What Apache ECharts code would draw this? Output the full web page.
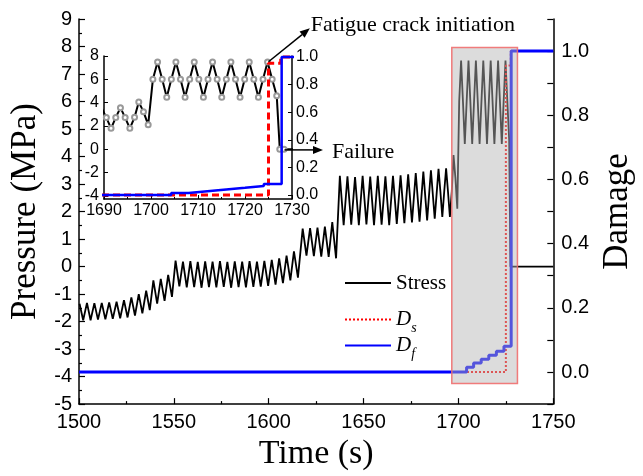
<!DOCTYPE html>
<html>
<head>
<meta charset="utf-8">
<script src="https://cdn.jsdelivr.net/npm/echarts@6/dist/echarts.min.js"></script>
<style>
  html, body { margin: 0; padding: 0; background: #fff; }
  #chart { width: 643px; height: 476px; }
</style>
</head>
<body>
<div id="chart"></div>
<script>
// stress history, [time s, pressure MPa]
const stressA = [
  [1500.3, -1.35], [1502.2, -1.95], [1504.2, -1.32], [1506.1, -1.95], [1508.1, -1.33], [1510.0, -1.93],
  [1512.0, -1.32], [1513.9, -1.92], [1515.9, -1.30], [1517.8, -1.90], [1519.8, -1.28], [1521.7, -1.88],
  [1523.7, -1.22], [1525.6, -1.85], [1527.6, -1.12], [1529.5, -1.78], [1531.5, -1.00], [1533.4, -1.70],
  [1535.4, -0.88], [1537.3, -1.58],
];
const stressB = [
  [1539.2, -0.50], [1541.2, -1.35], [1543.1, -0.45], [1545.1, -1.25], [1547.0, -0.30], [1549.0, -1.10],
];
const stressC = [
  [1550.9, 0.22], [1552.9, -0.72], [1554.8, 0.18], [1556.8, -0.76], [1558.7, 0.20], [1560.7, -0.75],
  [1562.6, 0.17], [1564.6, -0.77], [1566.5, 0.19], [1568.5, -0.75], [1570.4, 0.18], [1572.4, -0.76],
  [1574.3, 0.20], [1576.3, -0.74], [1578.2, 0.17], [1580.2, -0.77], [1582.1, 0.19], [1584.1, -0.75],
  [1586.0, 0.18], [1588.0, -0.76], [1589.9, 0.20], [1591.9, -0.74], [1593.8, 0.18], [1595.8, -0.73],
  [1597.7, 0.21], [1599.7, -0.70], [1601.6, 0.24], [1603.6, -0.66], [1605.5, 0.30], [1607.5, -0.60],
  [1609.4, 0.40], [1611.4, -0.50], [1613.3, 0.55], [1615.4, -0.40],
];
const stressD = [
  [1617.9, 1.38], [1619.9, 0.40], [1621.8, 1.40], [1623.8, 0.38], [1625.7, 1.42], [1627.7, 0.36],
  [1629.6, 1.45], [1631.6, 0.35], [1633.5, 1.62], [1635.5, 0.30],
];
const stressE = [
  [1637.5, 3.30], [1639.5, 1.50], [1641.5, 3.28], [1643.5, 1.52], [1645.5, 3.25], [1647.5, 1.50],
  [1649.5, 3.30], [1651.5, 1.53], [1653.5, 3.27], [1655.5, 1.50], [1657.5, 3.30], [1659.5, 1.52],
  [1661.5, 3.28], [1663.5, 1.50], [1665.5, 3.30], [1667.5, 1.55], [1669.5, 3.32], [1671.5, 1.58],
  [1673.5, 3.35], [1675.5, 1.60], [1677.5, 3.40], [1679.5, 1.63], [1681.5, 3.45], [1683.5, 1.68],
  [1685.5, 3.50], [1687.5, 1.74],
  [1689.5, 3.55], [1690.5, 2.72], [1691.5, 1.80], [1692.5, 2.72], [1693.5, 3.57], [1694.5, 2.72],
  [1695.5, 1.80], [1696.5, 2.74], [1697.4, 4.05], [1698.4, 3.23], [1699.4, 2.10],
];
const stressG = [
  [1700.4, 6.00], [1701.4, 7.49], [1702.38, 6.00], [1703.35, 4.46], [1704.33, 6.00],
  [1705.3, 7.49], [1706.28, 6.00], [1707.25, 4.46], [1708.23, 6.00],
  [1709.2, 7.49], [1710.18, 6.00], [1711.15, 4.46], [1712.13, 6.00],
  [1713.1, 7.49], [1714.08, 6.00], [1715.05, 4.46], [1716.03, 6.00],
  [1717.0, 7.49], [1717.98, 6.00], [1718.95, 4.46], [1719.93, 6.00],
  [1720.9, 7.49], [1721.88, 6.00], [1722.85, 4.46], [1723.83, 6.00],
  [1724.8, 7.49], [1725.78, 6.00], [1726.75, 4.60],
];
const stressFailed = [[1727.4, 0.0], [1728.3, 0.0], [1750, 0.0]];

// damage, [time s, damage], step lines
const damageS = [[1500, 0], [1725.0, 0.955], [1727.6, 1.0], [1750, 1.0]];
const damageF = [
  [1500, 0], [1704.3, 0.015], [1708.0, 0.028], [1712.0, 0.04], [1716.0, 0.052],
  [1720.0, 0.065], [1724.0, 0.08], [1727.8, 1.0], [1750, 1.0],
];

// shaded zoom window on the main plot
const boxTime = [1696.5, 1731.1];
const boxPressure = [-4.25, 7.96];

// annotation arrows, in inset coordinates [time, pressure]
const crackArrow = [[1725.0, 7.51], [1733.8, 10.37]];
const failureArrow = [[1728.4, -0.05], [1736.6, -0.05]];

// tick labels
const insetPressureTicks = [-4, -2, 0, 2, 4, 6, 8];
const insetDamageTicks = [0, 0.2, 0.4, 0.6, 0.8, 1.0];

const stress = [...stressA, ...stressB, ...stressC, ...stressD, ...stressE, ...stressG, ...stressFailed];

const sans = '"Liberation Sans", Arial, sans-serif';
const serif = '"Liberation Serif", "Times New Roman", serif';
const plain = (v) => String(v);

const axisCommon = {
  axisLine: { onZero: false, lineStyle: { color: '#000', width: 1.5 } },
  axisTick: { inside: true, length: 6, lineStyle: { color: '#000', width: 1.2 } },
  splitLine: { show: false },
};

const legendText = {
  fontFamily: serif,
  fontSize: 21,
  color: '#000',
  rich: {
    d: { fontFamily: serif, fontSize: 21, fontStyle: 'italic', color: '#000', lineHeight: 32 },
    sub: { fontFamily: serif, fontSize: 14, fontStyle: 'italic', color: '#000', lineHeight: 32, verticalAlign: 'bottom' },
  },
};
const legendName = (name) => {
  if (name === 'Ds') return '{d|D}{sub|s}';
  if (name === 'Df') return '{d|D}{sub|f}';
  return name;
};
const legendBase = {
  left: 344, orient: 'vertical', itemWidth: 46, itemHeight: 14, padding: 0,
  formatter: legendName, textStyle: legendText, selectedMode: false,
  itemStyle: { opacity: 0 },
};

const chart = echarts.init(document.getElementById('chart'));
chart.setOption({
  animation: false,
  backgroundColor: '#fff',
  grid: [
    { left: 77, right: 85, top: 19, bottom: 67 },
    { left: 104, width: 188, top: 56, height: 143 },
  ],
  legend: [
    { ...legendBase, top: 271, data: ['Stress'], textStyle: { ...legendText, lineHeight: 24 } },
    { ...legendBase, top: 309, data: ['Ds'] },
    { ...legendBase, top: 335, data: ['Df'] },
  ],
  xAxis: [
    {
      ...axisCommon,
      type: 'value', gridIndex: 0, min: 1500, max: 1750, interval: 50,
      minorTick: { show: true, splitNumber: 2, length: 3, lineStyle: { color: '#000', width: 1.2 } },
      axisLabel: { fontFamily: sans, fontSize: 20, color: '#000', margin: 8, formatter: plain },
      name: 'Time (s)', nameLocation: 'middle', nameGap: 28,
      nameTextStyle: { fontFamily: serif, fontSize: 34, color: '#000' },
    },
    {
      ...axisCommon,
      type: 'value', gridIndex: 1, min: 1690, max: 1730, interval: 10,
      axisTick: { inside: true, length: 4, lineStyle: { color: '#000' } },
      minorTick: { show: true, splitNumber: 2, length: 2, lineStyle: { color: '#000' } },
      axisLabel: { fontFamily: sans, fontSize: 16, color: '#000', margin: 4, formatter: plain },
    },
  ],
  yAxis: [
    {
      ...axisCommon,
      type: 'value', gridIndex: 0, min: -5, max: 9, interval: 1,
      minorTick: { show: true, splitNumber: 2, length: 3, lineStyle: { color: '#000', width: 1.2 } },
      axisLabel: { fontFamily: sans, fontSize: 20, color: '#000', margin: 7 },
      name: 'Pressure (MPa)', nameLocation: 'middle', nameGap: 36, nameRotate: 90,
      nameTextStyle: { fontFamily: serif, fontSize: 35, color: '#000' },
    },
    {
      ...axisCommon,
      type: 'value', gridIndex: 0, position: 'right', min: -0.1, max: 1.1, interval: 0.1,
      axisLabel: {
        fontFamily: sans, fontSize: 20, color: '#000', margin: 8,
        formatter: (v) => {
          const r = Math.round(v * 10);
          return r >= 0 && r <= 10 && r % 2 === 0 ? (r / 10).toFixed(1) : '';
        },
      },
      name: 'Damage', nameLocation: 'middle', nameGap: 44, nameRotate: 90,
      nameTextStyle: { fontFamily: serif, fontSize: 35, color: '#000' },
    },
    {
      ...axisCommon,
      type: 'value', gridIndex: 1, min: -4.26, max: 8,
      axisTick: { inside: true, length: 4, customValues: insetPressureTicks, lineStyle: { color: '#000' } },
      axisLabel: { fontFamily: sans, fontSize: 16, color: '#000', margin: 5, customValues: insetPressureTicks },
    },
    {
      ...axisCommon,
      type: 'value', gridIndex: 1, position: 'right', min: -0.029, max: 1.007,
      axisTick: { inside: true, length: 4, customValues: insetDamageTicks, lineStyle: { color: '#000' } },
      axisLabel: {
        fontFamily: sans, fontSize: 16, color: '#000', margin: 4, customValues: insetDamageTicks,
        formatter: (v) => v.toFixed(1),
      },
    },
  ],
  series: [
    {
      name: 'Stress', type: 'line', xAxisIndex: 0, yAxisIndex: 0, data: stress,
      symbol: 'none', lineStyle: { color: '#000', width: 1.8 }, itemStyle: { color: '#000' }, z: 2,
    },
    {
      name: 'Ds', type: 'line', xAxisIndex: 0, yAxisIndex: 1, data: damageS, step: 'end',
      symbol: 'none', lineStyle: { color: '#f00', width: 2, type: 'dotted' }, itemStyle: { color: '#f00' }, z: 3,
    },
    {
      name: 'Df', type: 'line', xAxisIndex: 0, yAxisIndex: 1, data: damageF, step: 'end',
      symbol: 'none', lineStyle: { color: '#0000ff', width: 3 }, itemStyle: { color: '#0000ff' }, z: 4,
    },
    {
      name: 'zoomBox', type: 'line', xAxisIndex: 0, yAxisIndex: 0, data: [], z: 10, silent: true,
      markArea: {
        silent: true, z: 10,
        itemStyle: { color: 'rgba(181,181,181,0.47)', borderColor: 'rgba(240,110,110,0.9)', borderWidth: 1.5 },
        data: [[{ coord: [boxTime[0], boxPressure[0]] }, { coord: [boxTime[1], boxPressure[1]] }]],
      },
    },
    {
      name: 'insetStress', type: 'line', xAxisIndex: 1, yAxisIndex: 2, data: stress,
      symbol: 'emptyCircle', symbolSize: 5, showAllSymbol: true,
      lineStyle: { color: '#000', width: 2 }, itemStyle: { color: '#999', borderWidth: 1 }, z: 3,
    },
    {
      name: 'insetDs', type: 'line', xAxisIndex: 1, yAxisIndex: 3, data: damageS, step: 'end',
      symbol: 'none', lineStyle: { color: '#f00', width: 3, type: [7, 4] }, z: 4,
    },
    {
      name: 'insetDf', type: 'line', xAxisIndex: 1, yAxisIndex: 3, data: damageF, step: 'end',
      symbol: 'none', lineStyle: { color: '#0000ff', width: 2.5 }, z: 5,
    },
  ],
});

// arrows and their captions, placed through the inset's own scales
const toInset = (p) => chart.convertToPixel({ xAxisIndex: 1, yAxisIndex: 2 }, p);
function arrow(pair) {
  const a = toInset(pair[0]);
  const b = toInset(pair[1]);
  const ang = Math.atan2(b[1] - a[1], b[0] - a[0]);
  const len = 10, half = 4;
  const bx = b[0] - len * Math.cos(ang), by = b[1] - len * Math.sin(ang);
  const nx = -Math.sin(ang) * half, ny = Math.cos(ang) * half;
  return [
    { type: 'line', silent: true, z: 20, shape: { x1: a[0], y1: a[1], x2: bx, y2: by }, style: { stroke: '#000', lineWidth: 1.5 } },
    { type: 'polygon', silent: true, z: 20, shape: { points: [b, [bx + nx, by + ny], [bx - nx, by - ny]] }, style: { fill: '#000' } },
  ];
}
const crackEnd = toInset(crackArrow[1]);
const failEnd = toInset(failureArrow[1]);
chart.setOption({
  graphic: [
    ...arrow(crackArrow),
    ...arrow(failureArrow),
    { type: 'text', silent: true, x: crackEnd[0] + 1, y: crackEnd[1] - 3,
      style: { text: 'Fatigue crack initiation', font: '22px ' + serif, fill: '#000', verticalAlign: 'middle' } },
    { type: 'text', silent: true, x: failEnd[0] + 9, y: failEnd[1] + 2,
      style: { text: 'Failure', font: '22px ' + serif, fill: '#000', verticalAlign: 'middle' } },
  ],
});
</script>
</body>
</html>
